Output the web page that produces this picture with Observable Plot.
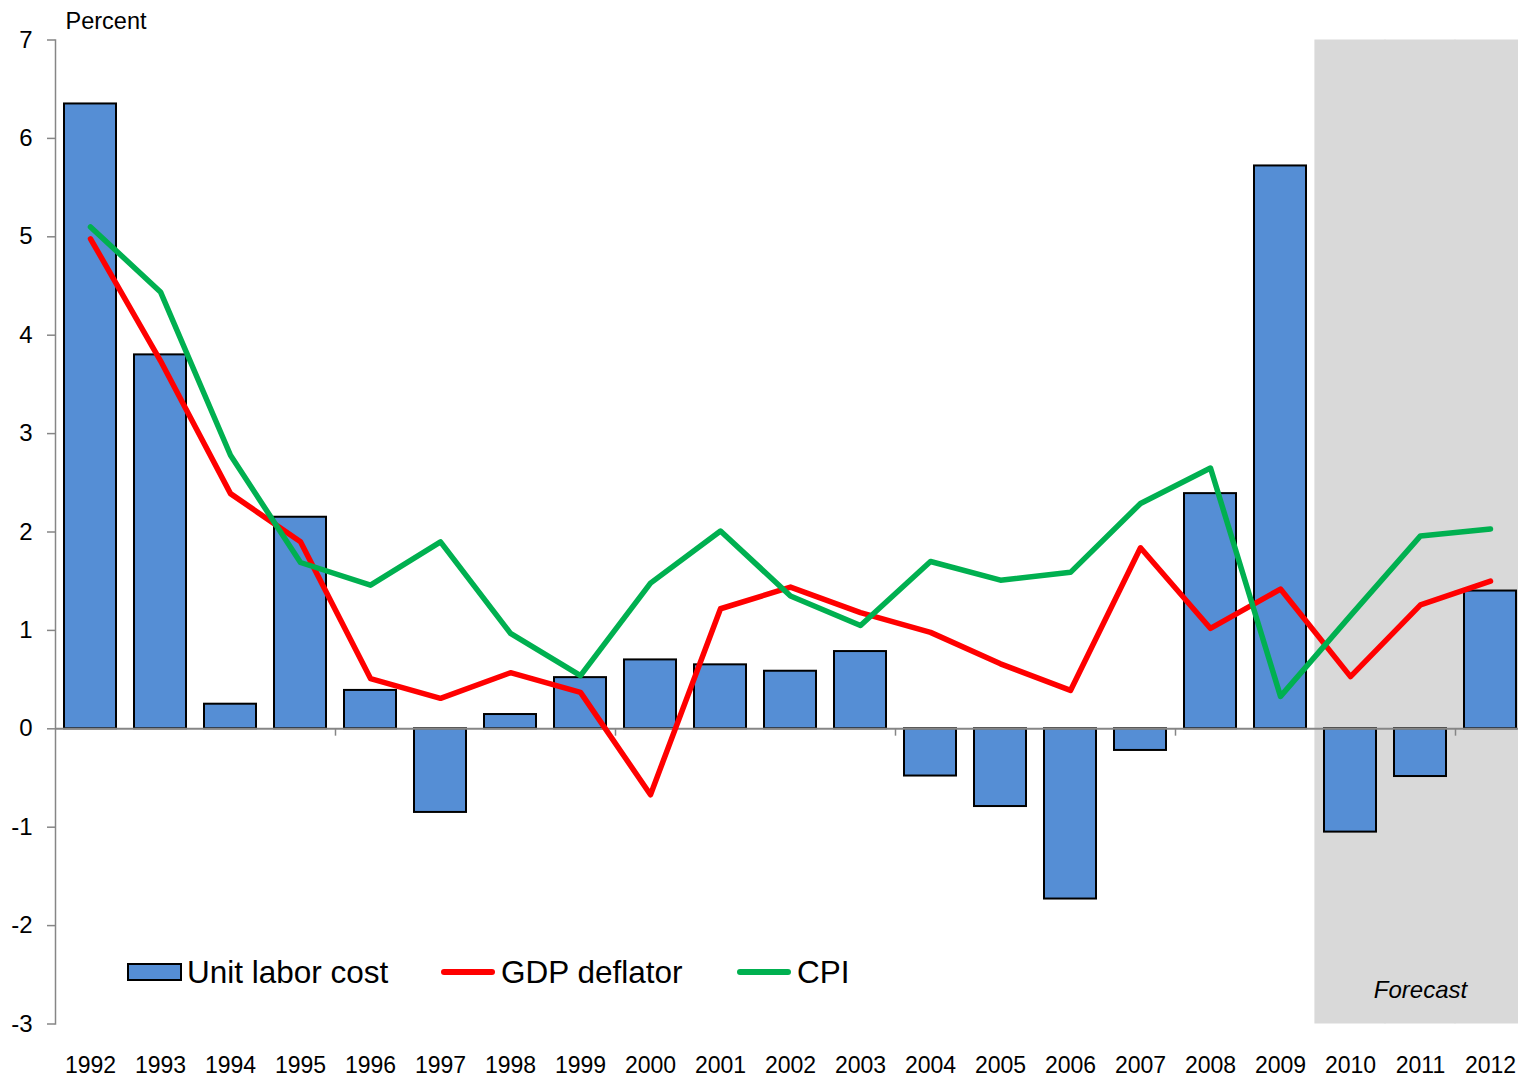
<!DOCTYPE html>
<html>
<head>
<meta charset="utf-8">
<script src="https://cdn.jsdelivr.net/npm/d3@7"></script>
<script src="https://cdn.jsdelivr.net/npm/@observablehq/plot@0.6"></script>
<style>
  html, body { margin: 0; padding: 0; background: #fff; overflow: hidden; }
  #wrap { position: relative; width: 1518px; height: 1078px; font-family: "Liberation Sans", Arial, sans-serif; }
  #chart { position: absolute; left: 0; top: 0; }
  .leg { position: absolute; top: 951px; height: 42px; display: flex; align-items: center; font-size: 31.5px; color: #000; white-space: nowrap; }
  .sw { width: 51px; height: 14px; background: #558ED5; border: 2px solid #000; margin-right: 5px; }
  .ln { width: 54px; height: 6px; border-radius: 3px; margin-right: 6px; }
</style>
</head>
<body>
<div id="wrap">
  <div id="chart"></div>
  <div class="leg" style="left:127px"><div class="sw"></div><span>Unit labor cost</span></div>
  <div class="leg" style="left:441px"><div class="ln" style="background:#FF0000"></div><span>GDP deflator</span></div>
  <div class="leg" style="left:737px"><div class="ln" style="background:#00B050"></div><span>CPI</span></div>
</div>
<script>
const years = ["1992","1993","1994","1995","1996","1997","1998","1999","2000","2001","2002","2003","2004","2005","2006","2007","2008","2009","2010","2011","2012"];
const unitLaborCost = [6.35, 3.80, 0.25, 2.15, 0.39, -0.85, 0.145, 0.52, 0.70, 0.65, 0.585, 0.785, -0.48, -0.79, -1.73, -0.22, 2.39, 5.72, -1.05, -0.485, 1.40];
const gdpDeflator = [4.98, 3.74, 2.39, 1.90, 0.51, 0.31, 0.57, 0.37, -0.67, 1.22, 1.44, 1.18, 0.98, 0.66, 0.39, 1.84, 1.02, 1.42, 0.53, 1.26, 1.50];
const cpi = [5.10, 4.44, 2.78, 1.69, 1.46, 1.90, 0.97, 0.54, 1.48, 2.01, 1.35, 1.05, 1.70, 1.51, 1.59, 2.29, 2.65, 0.33, 1.15, 1.96, 2.03];
const forecastYears = ["2010","2011","2012"];
const yTicks = [-3, -2, -1, 0, 1, 2, 3, 4, 5, 6, 7];
const axisTickYears = ["1996","2000","2004","2008","2012"];

const rows = years.map((y, i) => ({year: y, ulc: unitLaborCost[i], gdp: gdpDeflator[i], cpi: cpi[i]}));

const step = (1518 + 7 - 55) / years.length;
const gray = "#868686";

const chart = Plot.plot({
  width: 1518,
  height: 1078,
  marginLeft: 55,
  marginRight: -7,
  marginTop: 39.5,
  marginBottom: 54.5,
  style: {fontFamily: "'Liberation Sans', Arial, sans-serif", fontSize: "22px", color: "#000", background: "transparent"},
  x: {type: "band", domain: years, paddingInner: 0.26, paddingOuter: 0.13, axis: null},
  y: {domain: [-3, 7], axis: null},
  marks: [
    Plot.barY(forecastYears, {x: d => d, y1: -3, y2: 7, fill: "#D9D9D9", insetLeft: -step * 0.13 - 0.5, insetRight: -step * 0.13 - 0.5}),
    Plot.frame({anchor: "left", stroke: gray, strokeWidth: 1.5}),
    Plot.axisY({ticks: yTicks, tickFormat: d => String(d), tickSize: 8, tickPadding: 15, stroke: gray, strokeWidth: 1.5, fontSize: 24, label: null}),
    Plot.barY(rows, {x: "year", y1: 0, y2: "ulc", fill: "#558ED5", stroke: "#000", strokeWidth: 2}),
    Plot.ruleY([0], {stroke: gray, strokeWidth: 2}),
    Plot.ruleX(axisTickYears, {x: d => d, y1: 0, y2: -0.075, dx: -step / 2, stroke: gray, strokeWidth: 1.5}),
    Plot.line(rows, {x: "year", y: "gdp", stroke: "#FF0000", strokeWidth: 5.5, strokeLinejoin: "round", strokeLinecap: "round"}),
    Plot.line(rows, {x: "year", y: "cpi", stroke: "#00B050", strokeWidth: 5.5, strokeLinejoin: "round", strokeLinecap: "round"}),
    Plot.axisX({tickSize: 0, tickPadding: 33, fontSize: 23, label: null}),
    Plot.text(["Percent"], {frameAnchor: "top-left", dx: 10, dy: -11, textAnchor: "start", lineAnchor: "bottom", fontSize: 23.5}),
    Plot.text(["Forecast"], {x: () => "2011", y: () => -3, dy: -34, fontSize: 24, fontStyle: "italic", textAnchor: "middle", lineAnchor: "middle"})
  ]
});
document.getElementById("chart").appendChild(chart);
</script>
</body>
</html>
